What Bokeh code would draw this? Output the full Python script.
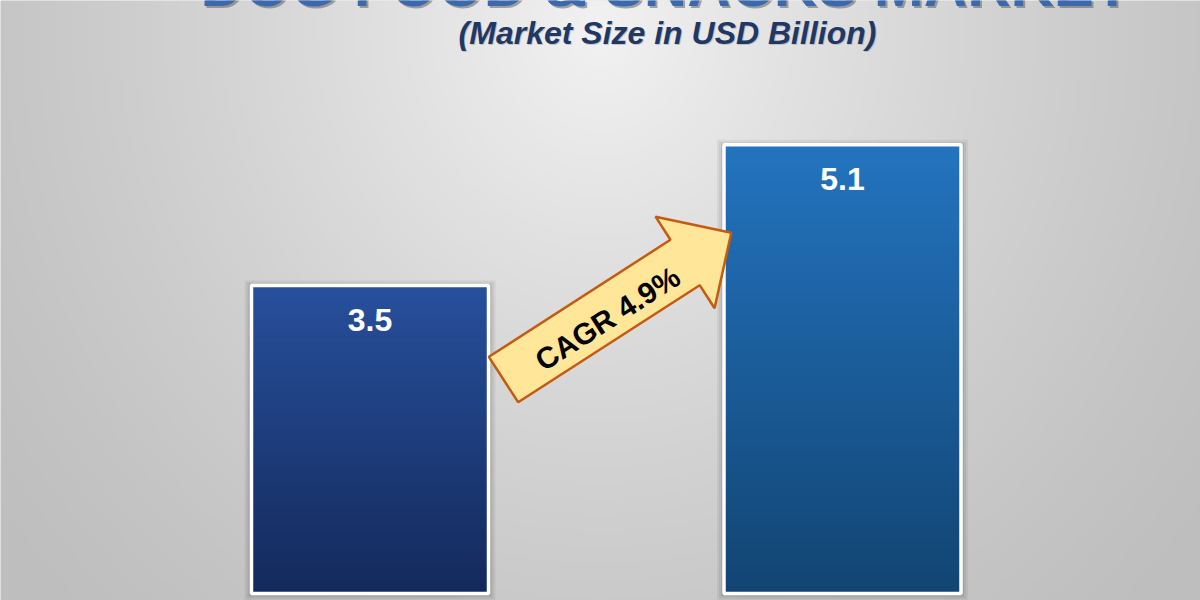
import numpy as np
from bokeh.plotting import figure
from bokeh.models import Range1d, ColumnDataSource
from bokeh.core.properties import value
from bokeh.embed import file_html
from bokeh.resources import INLINE

# ---------------- data ----------------
categories = ["Start year", "End year"]
market_size = [3.5, 5.1]
value_labels = ["3.5", "5.1"]
cagr_label = "CAGR 4.9%"
title_text = "DOG FOOD & SNACKS MARKET"
subtitle_text = "(Market Size in USD Billion)"

# ---------------- layout ----------------
W, H = 1200, 600
X0_PX, PX_PER_X = 369.5, 472.5    # screen x of category 0, px per category step
Y0_PX, PX_PER_Y = 593.0, 88.0     # screen y of value 0, px per billion


def dx(px):
    return (px - X0_PX) / PX_PER_X


def dy(py):
    return (Y0_PX - py) / PX_PER_Y


x_range = Range1d(dx(0), dx(W))
y_range = Range1d(dy(H), dy(0))

p = figure(width=W, height=H, x_range=x_range, y_range=y_range,
           output_backend="svg", toolbar_location=None,
           x_axis_type=None, y_axis_type=None, min_border=0)
p.grid.visible = False
p.outline_line_color = None
p.background_fill_color = "#d8d8d8"
p.border_fill_color = "#d8d8d8"

# ---------------- background radial gradient ----------------
S = 4
gh, gw = H // S, W // S
cols = (np.arange(gw) + 0.5) * S
rows_screen = H - (np.arange(gh) + 0.5) * S   # row 0 = bottom
X, Y = np.meshgrid(cols, rows_screen)
d = np.sqrt(((X - 600) / 650.0) ** 2 + ((Y - 30) / 700.0) ** 2)
t = np.clip(1 - np.minimum(d, 1.2) / 1.2, 0, 1) ** 1.3
g = (190 + 52 * t).astype(np.uint32)
img = (255 << 24) | (g << 16) | (g << 8) | g
p.image_rgba(image=[img.astype(np.uint32)], x=dx(0), y=dy(H),
             dw=dx(W) - dx(0), dh=dy(0) - dy(H))

# ---------------- bars ----------------
half = 0.5 * 237 / PX_PER_X
top_cols = [(40, 80, 156), (36, 116, 192)]
bot_cols = [(20, 42, 92), (18, 69, 115)]

for i, v in enumerate(market_size):
    # soft shadow
    for k, a in [(7, 0.05), (5, 0.06), (3, 0.08)]:
        p.quad(left=[i - half - k / PX_PER_X], right=[i + half + k / PX_PER_X],
               bottom=[0 - k / PX_PER_Y], top=[v + (k - 2) / PX_PER_Y],
               fill_color="black", fill_alpha=a, line_color=None)
    N = 60
    ks = np.arange(N)
    bottoms = v * ks / N
    tops = np.minimum(v * (ks + 1) / N + 2.0 / PX_PER_Y, v)
    fr = (ks + 0.5) / N
    tc, bc = np.array(top_cols[i]), np.array(bot_cols[i])
    colors = ["#%02x%02x%02x" % tuple((bc + (tc - bc) * f).astype(int)) for f in fr]
    src = ColumnDataSource(dict(left=[i - half] * N, right=[i + half] * N,
                                bottom=bottoms, top=tops, color=colors))
    p.quad(left="left", right="right", bottom="bottom", top="top",
           fill_color="color", line_color=None, source=src)

bar_src = ColumnDataSource(dict(x=list(range(len(market_size))), top=market_size,
                                label=value_labels, cat=categories))
p.vbar(x="x", top="top", bottom=0, width=2 * half, fill_color=None,
       line_color="white", line_width=3.5, source=bar_src)
p.text(x="x", y="top", text="label", source=bar_src, text_color="white",
       text_font=value("Liberation Sans"), text_font_style="bold",
       text_font_size="32px", text_align="center", text_baseline="middle",
       y_offset=34)

# ---------------- CAGR arrow ----------------
theta = np.deg2rad(32.8)
u = np.array([np.cos(theta), -np.sin(theta)])
n = np.array([-np.sin(theta), -np.cos(theta)])
T = np.array([503.0, 379.0])
L, Ls, hw, hh = 271.0, 216.0, 27.0, 54.5
pts = [T + hw * n, T + Ls * u + hw * n, T + Ls * u + hh * n, T + L * u,
       T + Ls * u - hh * n, T + Ls * u - hw * n, T - hw * n]
p.patch(x=[dx(q[0]) for q in pts], y=[dy(q[1]) for q in pts],
        fill_color="#FFE699", line_color="#C55A11", line_width=2.5)
p.text(x=[dx(607)], y=[dy(318)], text=[cagr_label], angle=theta,
       text_color="black", text_font=value("Liberation Sans"),
       text_font_style="bold", text_font_size="30px",
       text_align="center", text_baseline="middle")

# ---------------- titles ----------------
p.text(x=[dx(667)], y=[dy(-13)], text=[title_text], text_color="#555555",
       text_alpha=0.5, text_font=value("Liberation Sans"), text_font_style="bold",
       text_font_size="60px", text_align="center", text_baseline="alphabetic")
p.text(x=[dx(665)], y=[dy(-15)], text=[title_text], text_color="#3a6aad",
       text_font=value("Liberation Sans"), text_font_style="bold",
       text_font_size="60px", text_align="center", text_baseline="alphabetic")
p.text(x=[dx(668)], y=[dy(33)], text=[subtitle_text], text_color="#aaaaaa",
       text_alpha=0.6, text_font=value("Liberation Sans"), text_font_style="bold italic",
       text_font_size="32px", text_align="center", text_baseline="middle")
p.text(x=[dx(667)], y=[dy(32)], text=[subtitle_text], text_color="#1f3864",
       text_font=value("Liberation Sans"), text_font_style="bold italic",
       text_font_size="32px", text_align="center", text_baseline="middle")

open("out.html", "w").write(file_html(p, INLINE))
